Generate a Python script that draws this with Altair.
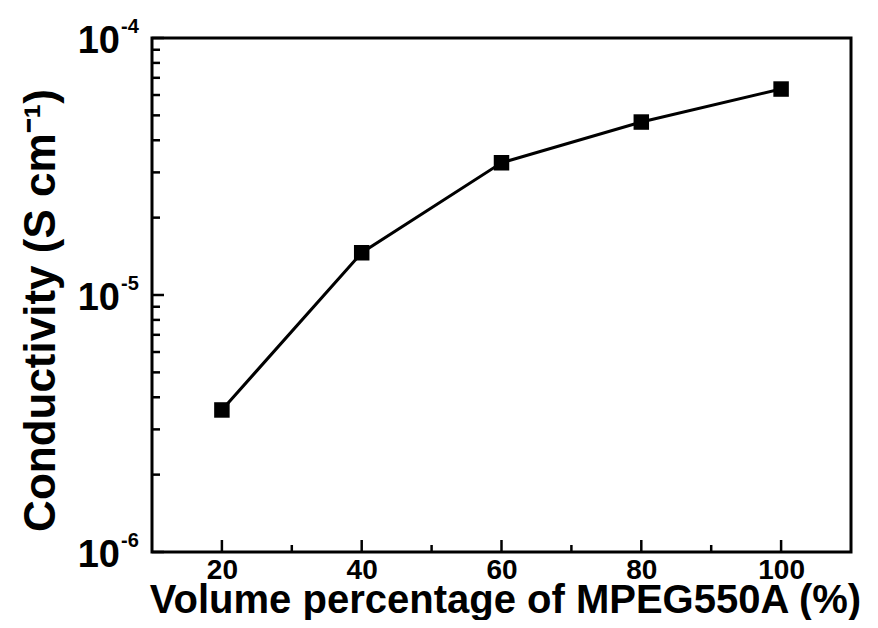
import altair as alt
import pandas as pd

# data
volume_pct = [20, 40, 60, 80, 100]
conductivity = [3.57e-6, 1.46e-5, 3.27e-5, 4.71e-5, 6.33e-5]

x_major = [20, 40, 60, 80, 100]
x_minor = [30, 50, 70, 90]
y_major = [1e-6, 1e-5, 1e-4]
y_exponents = ["-6", "-5", "-4"]
y_minor = [2e-6, 3e-6, 4e-6, 5e-6, 6e-6, 7e-6, 8e-6, 9e-6,
           2e-5, 3e-5, 4e-5, 5e-5, 6e-5, 7e-5, 8e-5, 9e-5]

W, H = 699, 514
FONT = "Liberation Sans"

df = pd.DataFrame({"x": volume_pct, "y": conductivity})
xs = alt.Scale(domain=[10, 110], nice=False, zero=False)
ys = alt.Scale(type="log", domain=[1e-6, 1e-4], nice=False)

base = alt.Chart(df)

line = base.mark_line(color="black", strokeWidth=3).encode(
    x=alt.X("x:Q", scale=xs,
            axis=alt.Axis(values=x_major, ticks=False, domain=False, grid=False,
                          labelFont=FONT, labelFontSize=28, labelFontWeight="bold",
                          labelColor="black", labelPadding=4, labelFlush=False,
                          title="Volume percentage of MPEG550A (%)",
                          titleFont=FONT, titleFontSize=40, titleFontWeight="bold",
                          titleColor="black", titleX=353, titleY=60,
                          titleAlign="center", titleBaseline="alphabetic")),
    y=alt.Y("y:Q", scale=ys,
            axis=alt.Axis(labels=False, ticks=False, domain=False, grid=False,
                          title="Conductivity (S cm⁻¹)",
                          titleFont=FONT, titleFontSize=44, titleFontWeight="bold",
                          titleColor="black", titleAngle=-90, titleX=-98,
                          titleY=272, titleAlign="center", titleBaseline="alphabetic")),
)
pts = base.mark_square(color="black", size=240, opacity=1).encode(
    x=alt.X("x:Q", scale=xs), y=alt.Y("y:Q", scale=ys)
)

xmaj = alt.Chart(pd.DataFrame({"t": x_major})).mark_rule(color="black", strokeWidth=2.5).encode(
    x=alt.X("t:Q", scale=xs), y=alt.value(H), y2=alt.value(H - 12))
xmin = alt.Chart(pd.DataFrame({"t": x_minor})).mark_rule(color="black", strokeWidth=2.5).encode(
    x=alt.X("t:Q", scale=xs), y=alt.value(H), y2=alt.value(H - 7))
ymaj = alt.Chart(pd.DataFrame({"t": y_major})).mark_rule(color="black", strokeWidth=2.5).encode(
    y=alt.Y("t:Q", scale=ys), x=alt.value(0), x2=alt.value(12))
ymin = alt.Chart(pd.DataFrame({"t": y_minor})).mark_rule(color="black", strokeWidth=2.5).encode(
    y=alt.Y("t:Q", scale=ys), x=alt.value(0), x2=alt.value(8))

lab_df = pd.DataFrame({"t": y_major, "e": y_exponents})
ten = alt.Chart(lab_df).mark_text(
    text="10", font=FONT, fontSize=38, fontWeight="bold", color="black",
    align="right", baseline="middle", dy=4).encode(
    y=alt.Y("t:Q", scale=ys), x=alt.value(-32))
expo = alt.Chart(lab_df).mark_text(
    font=FONT, fontSize=20, fontWeight="bold", color="black",
    align="left", baseline="middle", dy=-11).encode(
    y=alt.Y("t:Q", scale=ys), x=alt.value(-31), text="e:N")

chart = alt.layer(line, pts, xmaj, xmin, ymaj, ymin, ten, expo).properties(
    width=W, height=H,
    autosize=alt.AutoSizeParams(type="none"),
    padding={"left": 144, "top": 30, "right": 19, "bottom": 68},
).configure_view(stroke="black", strokeWidth=3)

chart.save("out.html", embed_options={"renderer": "svg", "actions": False})
